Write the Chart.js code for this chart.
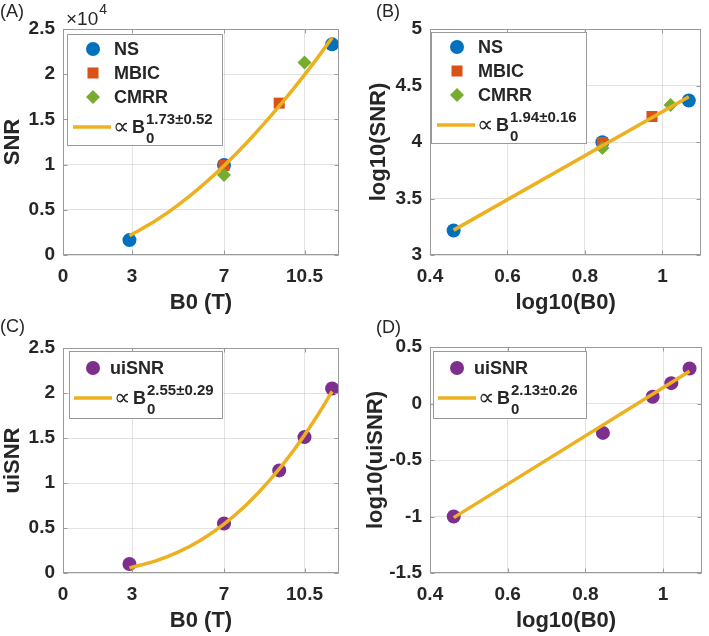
<!DOCTYPE html>
<html>
<head>
<meta charset="utf-8">
<script src="https://cdn.jsdelivr.net/npm/chart.js@4.4.1/dist/chart.umd.min.js"></script>
<style>
  body { margin: 0; background: #fff; }
  #wrap { position: relative; width: 709px; height: 636px; overflow: hidden; background: #fff; }
  canvas { position: absolute; }
</style>
</head>
<body>
<div id="wrap">
  <canvas id="chartA" width="354" height="318" style="left:0;top:0"></canvas>
  <canvas id="chartB" width="355" height="318" style="left:354px;top:0"></canvas>
  <canvas id="chartC" width="354" height="318" style="left:0;top:318px"></canvas>
  <canvas id="chartD" width="355" height="318" style="left:354px;top:318px"></canvas>
</div>
<script>
// (A) SNR vs B0
const nsB0 = [2.89, 7, 11.7];
const nsSNR = [1650, 9950, 23300];
const mbicB0 = [7, 9.4];
const mbicSNR = [9900, 16800];
const cmrrB0 = [7, 10.5];
const cmrrSNR = [8850, 21300];
const fitB0 = [2.89, 4, 5, 6, 7, 8, 9, 10, 11, 11.7];
const fitSNR = [2140, 3750, 5520, 7570, 9880, 12450, 15270, 18320, 21590, 24040];

// (B) log10(SNR) vs log10(B0)
const nsLogB0 = [0.461, 0.845, 1.068];
const nsLogSNR = [3.217, 3.998, 4.367];
const mbicLogB0 = [0.845, 0.973];
const mbicLogSNR = [3.996, 4.225];
const cmrrLogB0 = [0.845, 1.021];
const cmrrLogSNR = [3.947, 4.328];
const fitLogB0 = [0.461, 1.068];
const fitLogSNR = [3.22, 4.40];

// (C) uiSNR vs B0
const uiB0 = [2.89, 7, 9.4, 10.5, 11.7];
const uiSNR = [0.10, 0.55, 1.14, 1.51, 2.05];
const uiFitB0 = [2.89, 4, 5, 6, 7, 8, 9, 10, 11, 11.7];
const uiFitSNR = [0.057, 0.131, 0.231, 0.367, 0.544, 0.765, 1.034, 1.353, 1.725, 2.018];

// (D) log10(uiSNR) vs log10(B0)
const uiLogB0 = [0.461, 0.845, 0.973, 1.021, 1.068];
const uiLogSNR = [-1.0, -0.26, 0.06, 0.18, 0.31];
const uiFitLogB0 = [0.461, 1.068];
const uiFitLogSNR = [-1.01, 0.285];

// axis ticks
const b0Ticks = [0, 3, 7, 10.5];
const logB0Ticks = [0.4, 0.6, 0.8, 1];
const snrTicks = [0, 5000, 10000, 15000, 20000, 25000];
const logSnrTicks = [3, 3.5, 4, 4.5, 5];
const uiTicks = [0, 0.5, 1, 1.5, 2, 2.5];
const logUiTicks = [-1.5, -1, -0.5, 0, 0.5];

const FONT = '"Liberation Sans", Arial, Helvetica, sans-serif';
const TEXT = '#262626';
const BOX = '#9a9a9a';
const GRID = 'rgba(38,38,38,0.13)';
const BLUE = '#0072BD', RED = '#D95319', GREEN = '#77AC30', FIT = '#EDB120', PURPLE = '#7E2F8E';

const pts = (xs, ys) => xs.map((x, i) => ({ x: x, y: ys[i] }));

function drawMarker(ctx, style, x, y, r, color) {
    ctx.fillStyle = color;
    ctx.beginPath();
    if (style === 'circle') {
        ctx.arc(x, y, r, 0, Math.PI * 2);
    } else if (style === 'rect') {
        const s = r * Math.SQRT1_2;
        ctx.rect(x - s, y - s, 2 * s, 2 * s);
    } else {
        ctx.moveTo(x - r, y); ctx.lineTo(x, y - r); ctx.lineTo(x + r, y); ctx.lineTo(x, y + r);
        ctx.closePath();
    }
    ctx.fill();
}

function line(ctx, x1, y1, x2, y2) {
    ctx.beginPath(); ctx.moveTo(x1, y1); ctx.lineTo(x2, y2); ctx.stroke();
}

// axes box, inner ticks, panel label, x10^4 and legend (MATLAB style)
const decorPlugin = {
    id: 'decor',
    afterDraw(chart, args, opts) {
        const ctx = chart.ctx, a = chart.chartArea;
        const sx = chart.scales.x, sy = chart.scales.y;
        ctx.save();
        ctx.strokeStyle = BOX;
        ctx.lineWidth = 1;
        const L = Math.round(a.left) + 0.5, R = Math.round(a.right) - 0.5;
        const T = Math.round(a.top) + 0.5, B = Math.round(a.bottom) - 0.5;
        ctx.strokeRect(L, T, R - L, B - T);
        sx.ticks.forEach(t => {
            const px = Math.round(sx.getPixelForValue(t.value)) + 0.5;
            line(ctx, px, B, px, B - 4);
            line(ctx, px, T, px, T + 4);
        });
        sy.ticks.forEach(t => {
            const py = Math.round(sy.getPixelForValue(t.value)) + 0.5;
            line(ctx, L, py, L + 4, py);
            line(ctx, R, py, R - 4, py);
        });

        ctx.fillStyle = TEXT;
        ctx.textAlign = 'left';
        ctx.textBaseline = 'alphabetic';
        ctx.font = '18px ' + FONT;
        ctx.fillText(opts.panel[0], opts.panel[1], opts.panel[2]);

        if (opts.exponent) {
            ctx.font = '19px ' + FONT;
            ctx.fillText('\u00d710', a.left + 3, 25);
            const w = ctx.measureText('\u00d710').width;
            ctx.font = '14px ' + FONT;
            ctx.fillText('4', a.left + 4 + w, 14);
        }

        const lg = opts.legend;
        ctx.fillStyle = '#fff';
        ctx.fillRect(lg.x, lg.y, lg.w, lg.h);
        ctx.strokeStyle = BOX;
        ctx.strokeRect(lg.x + 0.5, lg.y + 0.5, lg.w, lg.h);
        lg.items.forEach((it, i) => {
            const y = lg.y + lg.rows[i];
            if (it.exp) {
                ctx.strokeStyle = FIT;
                ctx.lineWidth = 3.5;
                line(ctx, lg.x + lg.lineX[0], y, lg.x + lg.lineX[1], y);
                let x = lg.x + lg.propX;
                ctx.fillStyle = TEXT;
                ctx.textBaseline = 'alphabetic';
                ctx.font = '23px ' + FONT;
                ctx.fillText('\u221d', x, y + 7);
                x += ctx.measureText('\u221d').width + 3;
                ctx.font = 'bold 18px ' + FONT;
                ctx.fillText('B', x, y + 6);
                x += ctx.measureText('B').width + 1;
                ctx.font = 'bold 15px ' + FONT;
                ctx.fillText('0', x, y + 16);
                ctx.fillText(it.exp, x, y - 3);
            } else {
                drawMarker(ctx, it.style, lg.x + lg.markerX, y, it.r, it.color);
                ctx.fillStyle = TEXT;
                ctx.textBaseline = 'middle';
                ctx.font = 'bold 18px ' + FONT;
                ctx.fillText(it.label, lg.x + lg.textX, y + 1);
            }
        });
        ctx.restore();
    }
};

function fitSet(data, smooth) {
    return {
        label: 'fit', data: data, showLine: true, borderColor: FIT, borderWidth: 3.5,
        pointRadius: 0, pointHoverRadius: 0, cubicInterpolationMode: smooth ? 'monotone' : 'default',
        fill: false, order: 0
    };
}

function markerSet(label, data, style, r, color, order) {
    return {
        label: label, data: data, pointStyle: style, pointRadius: r, pointHoverRadius: r,
        backgroundColor: color, borderColor: color, borderWidth: 0, pointBorderWidth: 0, order: order
    };
}

function makeChart(id, datasets, cfg) {
    const tickFont = { family: FONT, size: 19, weight: 'bold' };
    const titleFont = { family: FONT, size: 22, weight: 'bold' };
    return new Chart(document.getElementById(id), {
        type: 'scatter',
        data: { datasets: datasets },
        options: {
            responsive: false,
            animation: false,
            layout: { padding: cfg.pad },
            plugins: { legend: { display: false }, tooltip: { enabled: false }, decor: cfg.decor },
            scales: {
                x: {
                    type: 'linear', min: cfg.xMin, max: cfg.xMax,
                    afterBuildTicks: s => { s.ticks = cfg.xTicks.map(v => ({ value: v })); },
                    afterFit: s => { s.height = 63; },
                    grid: { color: GRID, drawTicks: false },
                    border: { display: false },
                    ticks: { color: TEXT, font: tickFont, padding: 10, maxRotation: 0, autoSkip: false, callback: v => String(v) },
                    title: { display: true, text: cfg.xTitle, color: TEXT, font: titleFont, padding: { top: 0, bottom: 2 } }
                },
                y: {
                    type: 'linear', min: cfg.yMin, max: cfg.yMax,
                    afterBuildTicks: s => { s.ticks = cfg.yTicks.map(v => ({ value: v })); },
                    afterFit: s => { s.width = cfg.yWidth; },
                    grid: { color: GRID, drawTicks: false },
                    border: { display: false },
                    ticks: { color: TEXT, font: tickFont, padding: 8, autoSkip: false, callback: cfg.yLabel || (v => String(v)) },
                    title: { display: true, text: cfg.yTitle, color: TEXT, font: titleFont, padding: { top: cfg.yTitlePad, bottom: 0 } }
                }
            }
        },
        plugins: [decorPlugin]
    });
}

const legend4 = (x, y, exp) => ({
    x: x, y: y, w: 155, h: 111, rows: [15, 39, 63, 93], markerX: 26, textX: 47, lineX: [6, 44], propX: 46,
    items: [
        { label: 'NS', style: 'circle', r: 7, color: BLUE },
        { label: 'MBIC', style: 'rect', r: 7.8, color: RED },
        { label: 'CMRR', style: 'rectRot', r: 7, color: GREEN },
        { exp: exp }
    ]
});

const legend2 = (x, y, exp) => ({
    x: x, y: y, w: 153, h: 67, rows: [17, 47], markerX: 24, textX: 41, lineX: [5, 43], propX: 45,
    items: [
        { label: 'uiSNR', style: 'circle', r: 7, color: PURPLE },
        { exp: exp }
    ]
});

makeChart('chartA', [
    fitSet(pts(fitB0, fitSNR), true),
    markerSet('CMRR', pts(cmrrB0, cmrrSNR), 'rectRot', 7, GREEN, 1),
    markerSet('MBIC', pts(mbicB0, mbicSNR), 'rect', 7.8, RED, 2),
    markerSet('NS', pts(nsB0, nsSNR), 'circle', 7, BLUE, 3)
], {
    pad: { left: 0, right: 15, top: 29, bottom: 0 }, yWidth: 63, yTitlePad: 0,
    xMin: 0, xMax: 12, xTicks: b0Ticks, xTitle: 'B0 (T)',
    yMin: 0, yMax: 25000, yTicks: snrTicks, yTitle: 'SNR', yLabel: v => String(v / 10000),
    decor: { panel: ['(A)', 0, 17], exponent: true, legend: legend4(67, 34, '1.73\u00b10.52') }
});

makeChart('chartB', [
    fitSet(pts(fitLogB0, fitLogSNR), false),
    markerSet('CMRR', pts(cmrrLogB0, cmrrLogSNR), 'rectRot', 7, GREEN, 1),
    markerSet('MBIC', pts(mbicLogB0, mbicLogSNR), 'rect', 7.8, RED, 2),
    markerSet('NS', pts(nsLogB0, nsLogSNR), 'circle', 7, BLUE, 3)
], {
    pad: { left: 0, right: 4, top: 29, bottom: 0 }, yWidth: 76, yTitlePad: 12,
    xMin: 0.4, xMax: 1.1, xTicks: logB0Ticks, xTitle: 'log10(B0)',
    yMin: 3, yMax: 5, yTicks: logSnrTicks, yTitle: 'log10(SNR)',
    decor: { panel: ['(B)', 22, 17], legend: legend4(77, 32, '1.94\u00b10.16') }
});

makeChart('chartC', [
    fitSet(pts(uiFitB0, uiFitSNR), true),
    markerSet('uiSNR', pts(uiB0, uiSNR), 'circle', 7, PURPLE, 1)
], {
    pad: { left: 0, right: 15, top: 30, bottom: 0 }, yWidth: 63, yTitlePad: 0,
    xMin: 0, xMax: 12, xTicks: b0Ticks, xTitle: 'B0 (T)',
    yMin: 0, yMax: 2.5, yTicks: uiTicks, yTitle: 'uiSNR',
    decor: { panel: ['(C)', 0, 14], legend: legend2(69, 33, '2.55\u00b10.29') }
});

makeChart('chartD', [
    fitSet(pts(uiFitLogB0, uiFitLogSNR), false),
    markerSet('uiSNR', pts(uiLogB0, uiLogSNR), 'circle', 7, PURPLE, 1)
], {
    pad: { left: 0, right: 4, top: 29, bottom: 0 }, yWidth: 76, yTitlePad: 9,
    xMin: 0.4, xMax: 1.1, xTicks: logB0Ticks, xTitle: 'log10(B0)',
    yMin: -1.5, yMax: 0.5, yTicks: logUiTicks, yTitle: 'log10(uiSNR)',
    decor: { panel: ['(D)', 22, 15], legend: legend2(79, 33, '2.13\u00b10.26') }
});
</script>
</body>
</html>
